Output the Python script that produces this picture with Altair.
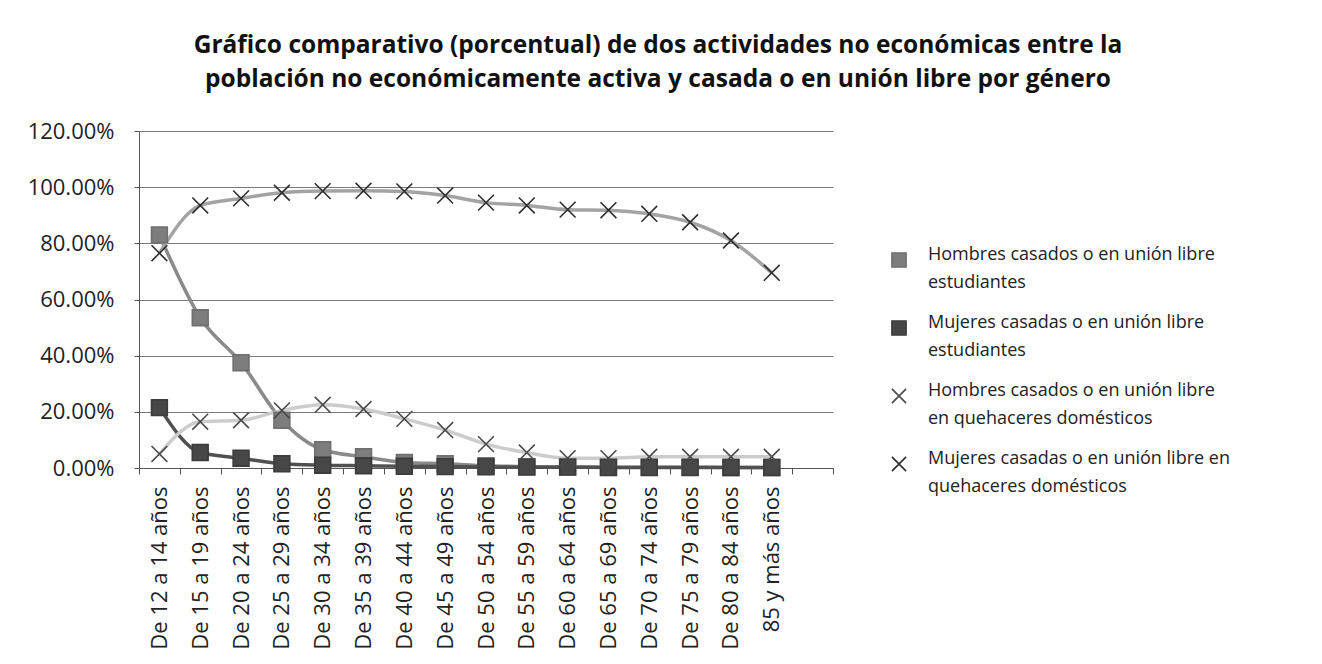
import altair as alt
import pandas as pd

categories = ["De 12 a 14 años", "De 15 a 19 años", "De 20 a 24 años", "De 25 a 29 años",
              "De 30 a 34 años", "De 35 a 39 años", "De 40 a 44 años", "De 45 a 49 años",
              "De 50 a 54 años", "De 55 a 59 años", "De 60 a 64 años", "De 65 a 69 años",
              "De 70 a 74 años", "De 75 a 79 años", "De 80 a 84 años", "85 y más años"]
axis_domain = categories + [" "]

series_names = [
    "Hombres casados o en unión libre|estudiantes",
    "Mujeres casadas o en unión libre|estudiantes",
    "Hombres casados o en unión libre|en quehaceres domésticos",
    "Mujeres casadas o en unión libre en|quehaceres domésticos",
]
series_keys = ["s1", "s2", "s3", "s4"]

hombres_estudiantes = [83.0, 53.5, 37.5, 17.0, 6.5, 4.0, 2.0, 1.5, 0.8, 0.5, 0.4, 0.3, 0.3, 0.3, 0.2, 0.2]
mujeres_estudiantes = [21.5, 5.5, 3.5, 1.5, 1.0, 0.8, 0.6, 0.5, 0.4, 0.3, 0.3, 0.2, 0.2, 0.2, 0.2, 0.2]
hombres_quehaceres = [5.0, 16.5, 17.0, 20.5, 22.5, 21.0, 17.5, 13.5, 8.5, 5.5, 3.5, 3.5, 4.0, 4.0, 4.0, 4.0]
mujeres_quehaceres = [76.5, 93.5, 96.0, 98.0, 98.6, 98.7, 98.5, 97.0, 94.5, 93.5, 92.0, 91.8, 90.5, 87.5, 81.0, 69.5]

line_colors = ["#8a8a8a", "#505050", "#cccccc", "#a3a3a3"]
marker_fill = ["#7d7d7d", "#474747", "transparent", "transparent"]
marker_stroke = ["#6f6f6f", "#3c3c3c", "#4a4a4a", "#2e2e2e"]
X_PATH = "M-1,-1L1,1M-1,1L1,-1"
shapes = ["square", "square", X_PATH, X_PATH]

rows = []
for key, name, vals in zip(series_keys, series_names,
                           [hombres_estudiantes, mujeres_estudiantes,
                            hombres_quehaceres, mujeres_quehaceres]):
    for i, (c, v) in enumerate(zip(categories, vals)):
        rows.append({"grupo": c, "idx": i, "clave": key, "serie": name, "valor": v / 100.0})
df = pd.DataFrame(rows)

FONT = "Open Sans"

x_enc = alt.X("grupo:N", sort=axis_domain,
              scale=alt.Scale(domain=axis_domain, paddingInner=0, paddingOuter=0),
              axis=alt.Axis(title=None, labelAngle=-90, labelFontSize=22, labelFont=FONT,
                            labelColor="#222222", tickBand="extent", tickSize=6,
                            tickColor="#555555", domainColor="#555555", labelPadding=12,
                            labelBaseline="middle", labelAlign="right"))
y_enc = alt.Y("valor:Q",
              scale=alt.Scale(domain=[0, 1.2], nice=False),
              axis=alt.Axis(title=None, format=".2%", values=[0, 0.2, 0.4, 0.6, 0.8, 1.0, 1.2],
                            labelFontSize=22, labelFont=FONT, labelColor="#222222",
                            gridColor="#7a7a7a", gridWidth=1, tickSize=5, tickColor="#555555",
                            domainColor="#555555", labelPadding=20))

lines = alt.Chart(df).mark_line(interpolate="monotone", strokeWidth=3.5).encode(
    x=x_enc, y=y_enc,
    color=alt.Color("clave:N", sort=series_keys,
                    scale=alt.Scale(domain=series_keys, range=line_colors), legend=None),
    order=alt.Order("idx:Q"),
)

legend = alt.Legend(title=None, orient="none", legendX=751, legendY=120,
                    labelFont=FONT, labelFontSize=18, labelColor="#222222",
                    labelExpr="split(datum.label, '|')", labelBaseline="alphabetic",
                    labelOffset=20, rowPadding=22, labelLimit=400, symbolSize=200,
                    symbolStrokeWidth=1.6)

points = alt.Chart(df).mark_point(size=250, strokeWidth=1.6, opacity=1).encode(
    x=x_enc, y=y_enc,
    shape=alt.Shape("serie:N", sort=series_names,
                    scale=alt.Scale(domain=series_names, range=shapes), legend=legend),
    fill=alt.Fill("serie:N", sort=series_names,
                  scale=alt.Scale(domain=series_names, range=marker_fill), legend=legend),
    stroke=alt.Stroke("serie:N", sort=series_names,
                      scale=alt.Scale(domain=series_names, range=marker_stroke), legend=legend),
)

chart = alt.layer(lines, points).properties(
    width=694, height=337,
    title=alt.Title(
        ["Gráfico comparativo (porcentual) de dos actividades no económicas entre la",
         "población no económicamente activa y casada o en unión libre por género"],
        font=FONT, fontSize=24.5, fontWeight="bold", color="#111111",
        anchor="middle", dx=172, offset=28, lineHeight=34),
    autosize=alt.AutoSizeParams(type="none"),
    padding={"left": 131, "top": 123, "right": 481, "bottom": 188},
    background="white",
).configure(
    style={"guide-label": {"lineHeight": 28}}
).configure_view(stroke=None).configure_axis(grid=False).configure_axisY(grid=True)

chart.save("out.html", embed_options={"renderer": "svg", "actions": False})
